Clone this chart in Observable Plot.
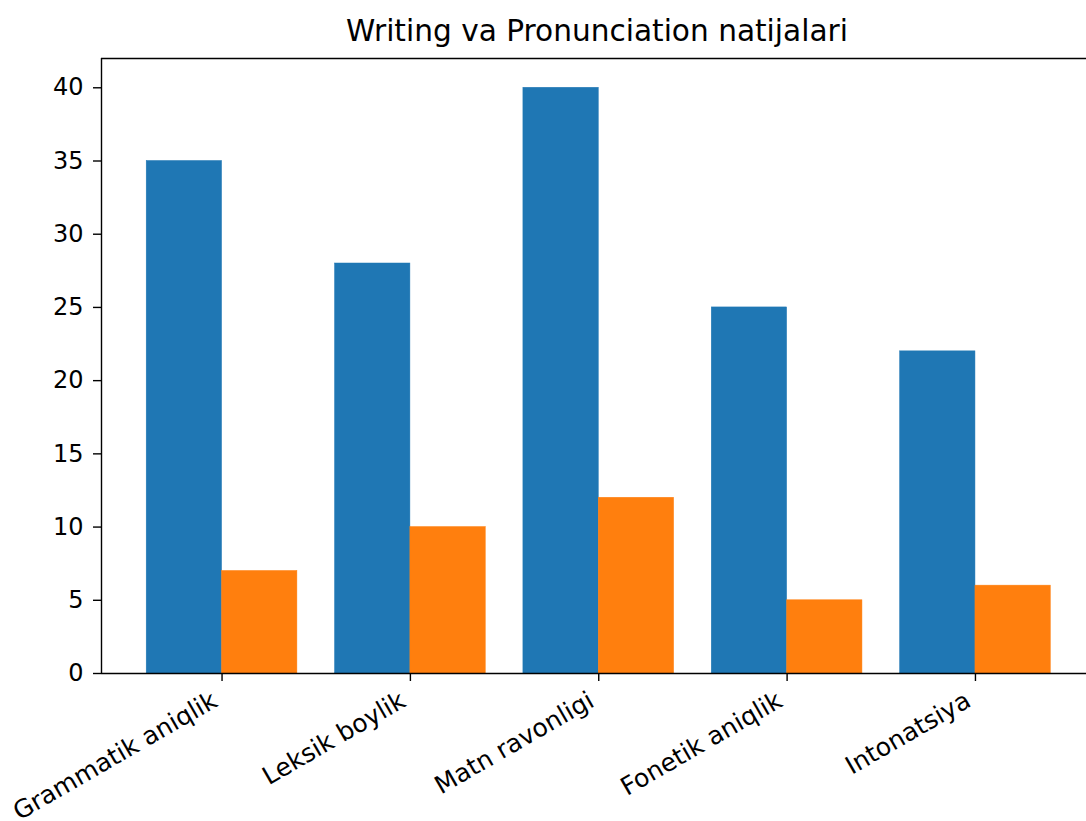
<!DOCTYPE html>
<html>
<head>
<meta charset="utf-8">
<script src="https://cdn.jsdelivr.net/npm/d3@7"></script>
<script src="https://cdn.jsdelivr.net/npm/@observablehq/plot@0.6"></script>
<style>
  html, body { margin: 0; padding: 0; background: white; overflow: hidden; }
  #wrap { position: relative; width: 1086px; height: 821px; }
  #title { position: absolute; top: 16px; left: 597px; transform: translateX(-50%);
    font-family: "DejaVu Sans", sans-serif; font-size: 29.6px; line-height: 30px; color: #000; white-space: nowrap; }
  #chart { position: absolute; top: 0; left: 0; }
</style>
</head>
<body>
<div id="wrap">
  <div id="chart"></div>
  <div id="title">Writing va Pronunciation natijalari</div>
</div>
<script>
const categories = ["Grammatik aniqlik", "Leksik boylik", "Matn ravonligi", "Fonetik aniqlik", "Intonatsiya"];
const seriesNames = ["A", "B"];
const seriesA = [35, 28, 40, 25, 22];
const seriesB = [7, 10, 12, 5, 6];
const seriesColors = ["#1f77b4", "#ff7f0e"];
const yTicks = [0, 5, 10, 15, 20, 25, 30, 35, 40];

const barWidth = 0.4;
const table = [];
categories.forEach((c, i) => {
  table.push({i, category: c, series: seriesNames[0], value: seriesA[i], x1: i - barWidth, x2: i});
  table.push({i, category: c, series: seriesNames[1], value: seriesB[i], x1: i, x2: i + barWidth});
});

const xMin = -0.64, xMax = categories.length - 1 + 0.64, yMax = 42;
const xTicks = categories.map((_, i) => i);

const chart = Plot.plot({
  width: 1086,
  height: 821,
  marginLeft: 101,
  marginRight: 0,
  marginTop: 58,
  marginBottom: 148,
  style: {fontFamily: "DejaVu Sans, sans-serif", fontSize: "24px", color: "#000", background: "white"},
  x: {type: "linear", domain: [xMin, xMax], range: [101, 1095.5]},
  y: {domain: [0, yMax]},
  color: {domain: seriesNames, range: seriesColors},
  marks: [
    Plot.rectY(table, {x1: "x1", x2: "x2", y1: 0, y2: "value", fill: "series", stroke: "series", strokeWidth: 0.5}),
    Plot.ruleY([0, yMax], {stroke: "#000", strokeWidth: 1.4}),
    Plot.ruleX([xMin], {stroke: "#000", strokeWidth: 1.4}),
    Plot.axisY({ticks: yTicks, tickSize: 8, tickPadding: 10, label: null, strokeWidth: 1.4, fontSize: 24}),
    Plot.axisX({ticks: xTicks, tickSize: 8, tickFormat: () => null, label: null, strokeWidth: 1.4}),
    Plot.axisX({ticks: xTicks, tickFormat: i => categories[i], tickRotate: -30,
      tickSize: 0, tickPadding: 14, label: null, fontSize: 25, dx: -7, dy: 11})
  ]
});
document.getElementById("chart").appendChild(chart);
</script>
</body>
</html>
